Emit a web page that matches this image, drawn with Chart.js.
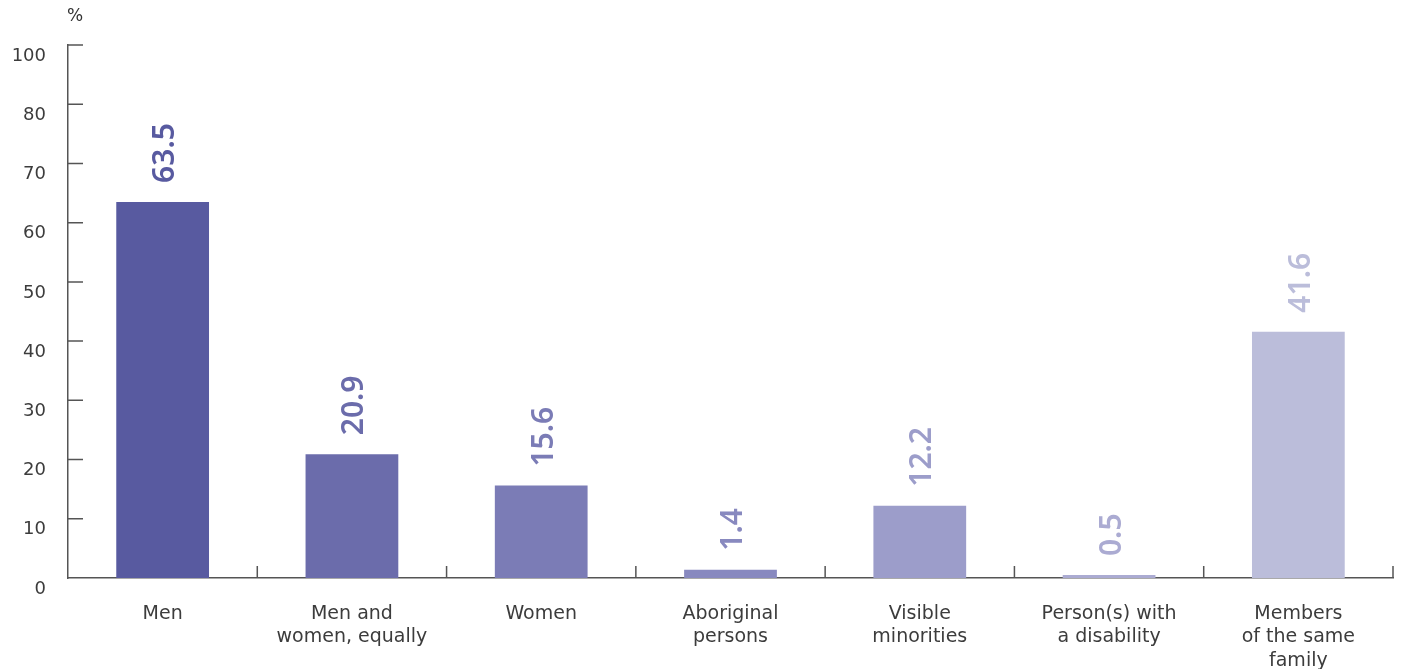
<!DOCTYPE html>
<html>
<head>
<meta charset="utf-8">
<script src="https://cdn.jsdelivr.net/npm/chart.js@4.4.1/dist/chart.umd.min.js"></script>
<style>
  html, body { margin: 0; padding: 0; background: #fff; }
  #wrap { position: relative; width: 1402px; height: 669px; }
  #unit { position: absolute; left: 67px; top: 5px; font: 17px "DejaVu Sans", sans-serif; color: #333; }
</style>
</head>
<body>
<div id="wrap">
  <div id="unit">%</div>
  <canvas id="chart" width="1402" height="669"></canvas>
</div>
<script>
// Categories and values
const categories = [
  'Men',
  ['Men and', 'women, equally'],
  'Women',
  ['Aboriginal', 'persons'],
  ['Visible', 'minorities'],
  ['Person(s) with', 'a disability'],
  ['Members', 'of the same', 'family']
];
const values = [63.5, 20.9, 15.6, 1.4, 12.2, 0.5, 41.6];
const barColors = ['#585aa0', '#6b6cab', '#7b7cb6', '#8889bf', '#9c9dca', '#ababd2', '#bbbdda'];
const yTickLabels = ['0', '10', '20', '30', '40', '50', '60', '70', '80', '100'];

const axisColor = '#555';
const textColor = '#3c3c3c';
const labelFont = 'DejaVu Sans';

// Short inward ticks on the y axis and category separators on the x axis
const axisMarks = {
  id: 'axisMarks',
  afterDraw(chart) {
    const ctx = chart.ctx;
    const x = chart.scales.x;
    const y = chart.scales.y;
    ctx.save();
    ctx.strokeStyle = axisColor;
    ctx.lineWidth = 1.5;
    ctx.beginPath();
    y.ticks.forEach(t => {
      if (t.value === 0) return;
      const py = y.getPixelForValue(t.value);
      ctx.moveTo(x.left, py);
      ctx.lineTo(x.left + 15, py);
    });
    const step = (x.right - x.left) / categories.length;
    for (let i = 1; i <= categories.length; i++) {
      const px = x.getPixelForValue(i - 1) + step / 2;
      ctx.moveTo(px, y.bottom);
      ctx.lineTo(px, y.bottom - 12);
    }
    ctx.stroke();
    ctx.restore();
  }
};

// Rotated value labels above each bar
const barValues = {
  id: 'barValues',
  afterDatasetsDraw(chart) {
    const ctx = chart.ctx;
    const meta = chart.getDatasetMeta(0);
    ctx.save();
    ctx.font = '600 30px "Noto Sans", sans-serif';
    ctx.textAlign = 'left';
    ctx.textBaseline = 'middle';
    meta.data.forEach((bar, i) => {
      ctx.save();
      ctx.translate(bar.x + 3, bar.y - 19);
      ctx.rotate(-Math.PI / 2);
      ctx.fillStyle = barColors[i];
      ctx.fillText(values[i].toFixed(1), 0, 0);
      ctx.restore();
    });
    ctx.restore();
  }
};

new Chart(document.getElementById('chart'), {
  type: 'bar',
  data: {
    labels: categories,
    datasets: [{
      data: values,
      backgroundColor: barColors,
      barPercentage: 0.49,
      categoryPercentage: 1
    }]
  },
  options: {
    responsive: false,
    animation: false,
    layout: { padding: { top: 45, right: 9, left: 0, bottom: 0 } },
    plugins: {
      legend: { display: false },
      tooltip: { enabled: false }
    },
    scales: {
      x: {
        grid: { display: false, drawTicks: false },
        border: { display: true, color: axisColor, width: 1.5 },
        ticks: {
          color: textColor,
          font: { family: labelFont, size: 19, lineHeight: 1.24 },
          padding: 24,
          maxRotation: 0,
          autoSkip: false
        },
        afterFit(scale) { scale.height = 91; }
      },
      y: {
        min: 0,
        max: 90,
        grid: { display: false, drawTicks: false },
        border: { display: true, color: axisColor, width: 1.5 },
        ticks: {
          stepSize: 10,
          color: textColor,
          font: { family: labelFont, size: 18 },
          padding: 22,
          labelOffset: 11,
          callback: (value, index) => yTickLabels[index]
        },
        afterFit(scale) { scale.width = 68; }
      }
    }
  },
  plugins: [axisMarks, barValues]
});
</script>
</body>
</html>
